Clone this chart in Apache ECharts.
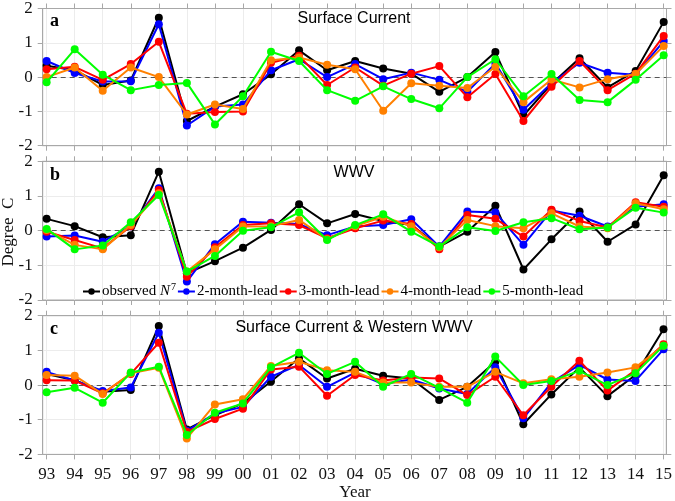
<!DOCTYPE html>
<html>
<head>
<meta charset="utf-8">
<script src="https://cdn.jsdelivr.net/npm/echarts@6/dist/echarts.min.js"></script>
<style>
html,body{margin:0;padding:0;background:#fff}
#chart{width:675px;height:501px}
</style>
</head>
<body>
<div id="chart"></div>
<script>
var years = ['93','94','95','96','97','98','99','00','01','02','03','04','05','06','07','08','09','10','11','12','13','14','15'];
var names = ['observed N7', '2-month-lead', '3-month-lead', '4-month-lead', '5-month-lead'];
var colors = ['#000000', '#0000ff', '#ff0000', '#ff8000', '#00ff00'];
var panelTitles = ['Surface Current', 'WWV', 'Surface Current & Western WWV'];
var panelLetters = ['a', 'b', 'c'];

// a: Surface Current
var aObs = [0.33, 0.2, -0.23, -0.1, 1.73, -1.28, -0.86, -0.5, 0.08, 0.78, 0.2, 0.47, 0.25, 0.1, -0.43, 0, 0.73, -1.12, -0.2, 0.55, -0.3, 0.18, 1.61];
var a2 = [0.47, 0.12, -0.13, -0.12, 1.54, -1.41, -0.86, -0.8, 0.2, 0.52, 0, 0.38, -0.06, 0.13, -0.08, -0.43, 0.4, -0.95, -0.18, 0.42, 0.13, 0.07, 1.05];
var a3 = [0.23, 0.3, -0.08, 0.38, 1.03, -1.07, -1.02, -1.0, 0.42, 0.62, -0.23, 0.28, -0.25, 0.1, 0.32, -0.59, 0.09, -1.28, -0.28, 0.47, -0.38, 0.1, 1.2];
var a4 = [0, 0.28, -0.4, 0.28, 0, -1.09, -0.8, -0.93, 0.49, 0.57, 0.36, 0.23, -0.98, -0.18, -0.25, -0.32, 0.3, -0.73, -0.07, -0.3, -0.06, 0.09, 0.91];
var a5 = [-0.15, 0.81, 0.07, -0.38, -0.23, -0.17, -1.38, -0.56, 0.74, 0.47, -0.38, -0.69, -0.27, -0.64, -0.91, 0, 0.52, -0.56, 0.09, -0.67, -0.73, -0.08, 0.64];

// b: WWV
var bObs = [0.34, 0.13, -0.19, -0.13, 1.7, -1.23, -0.88, -0.49, 0.02, 0.76, 0.21, 0.48, 0.28, 0.16, -0.46, -0.03, 0.72, -1.12, -0.25, 0.55, -0.32, 0.18, 1.6];
var b2 = [-0.17, -0.14, -0.32, 0.13, 1.22, -1.47, -0.39, 0.26, 0.23, 0.19, -0.13, 0.12, 0.16, 0.33, -0.46, 0.55, 0.52, -0.41, 0.58, 0.43, 0.12, 0.69, 0.76];
var b3 = [-0.03, -0.27, -0.51, 0.13, 1.17, -1.33, -0.48, 0.16, 0.21, 0.16, -0.22, 0.07, 0.29, 0.19, -0.54, 0.45, 0.34, -0.17, 0.6, 0.28, 0.09, 0.82, 0.69];
var b4 = [0.02, -0.41, -0.54, 0.16, 1.08, -1.18, -0.54, 0.12, 0.13, 0.31, -0.25, 0.13, 0.4, 0.13, -0.48, 0.31, 0.13, 0.07, 0.5, 0.12, 0.07, 0.79, 0.62];
var b5 = [0.05, -0.54, -0.43, 0.24, 1.03, -1.18, -0.73, 0, 0.1, 0.53, -0.27, 0.16, 0.47, -0.03, -0.46, 0.1, -0.01, 0.24, 0.36, 0.04, 0.09, 0.66, 0.52];

// c: Surface Current & Western WWV
var cObs = [0.32, 0.14, -0.19, -0.14, 1.7, -1.28, -0.87, -0.53, 0.1, 0.77, 0.19, 0.47, 0.27, 0.19, -0.43, -0.05, 0.67, -1.13, -0.27, 0.51, -0.32, 0.29, 1.61];
var c2 = [0.38, 0.13, -0.17, -0.07, 1.51, -1.32, -0.82, -0.63, 0.24, 0.58, -0.05, 0.36, 0.03, 0.16, -0.1, -0.26, 0.51, -0.96, 0.07, 0.58, 0.16, 0.12, 1.03];
var c3 = [0.14, 0.13, -0.24, 0.32, 1.22, -1.35, -0.98, -0.68, 0.45, 0.53, -0.31, 0.29, 0.13, 0.22, 0.19, -0.29, 0.24, -0.87, -0.05, 0.7, -0.16, 0.43, 1.18];
var c4 = [0.29, 0.27, -0.26, 0.34, 0.5, -1.54, -0.56, -0.41, 0.55, 0.67, 0.43, 0.38, 0.07, 0.07, -0.05, -0.05, 0.38, 0.05, 0.17, 0.24, 0.36, 0.51, 1.13];
var c5 = [-0.21, -0.08, -0.51, 0.36, 0.53, -1.44, -0.8, -0.53, 0.51, 0.93, 0.32, 0.67, -0.05, 0.32, -0.08, -0.51, 0.82, 0, 0.12, 0.41, 0, 0.34, 1.13];

var panels = [[aObs, a2, a3, a4, a5], [bObs, b2, b3, b4, b5], [cObs, c2, c3, c4, c5]];

var serif = 'Liberation Serif';
var sans = 'Liberation Sans';
var gridTops = [7, 161.3, 315.7];
var gridH = 138.7;
var tickIdx = years.map(function (y, i) { return i; });
var frameColor = '#a8a8a8';
var splitColor = '#ececec';

var myChart = echarts.init(document.getElementById('chart'));

var grids = [], xAxes = [], yAxes = [], series = [], titles = [];

panels.forEach(function (panel, p) {
  grids.push({
    left: 42.7, right: 8.5, top: gridTops[p], height: gridH,
    show: true, borderColor: frameColor, borderWidth: 1, backgroundColor: '#fff'
  });
  // bottom x axis (data)
  xAxes.push({
    type: 'value', gridIndex: p, min: -0.14, max: 22.1, position: 'bottom',
    axisLine: {show: true, onZero: false, lineStyle: {color: frameColor}},
    axisTick: {show: true, customValues: tickIdx, length: 5, lineStyle: {color: frameColor}},
    axisLabel: {
      show: p === 2, customValues: tickIdx, margin: 12,
      fontFamily: serif, fontSize: 17, color: '#111',
      formatter: function (v) { return years[Math.round(v)]; }
    },
    splitLine: {show: true, lineStyle: {color: splitColor}}
  });
  // top x axis (ticks only)
  xAxes.push({
    type: 'value', gridIndex: p, min: -0.14, max: 22.1, position: 'top',
    axisLine: {show: true, onZero: false, lineStyle: {color: frameColor}},
    axisTick: {show: true, customValues: tickIdx, length: 5, lineStyle: {color: frameColor}},
    axisLabel: {show: false},
    splitLine: {show: false}
  });
  yAxes.push({
    type: 'value', gridIndex: p, min: -2, max: 2, interval: 1, position: 'left',
    axisLine: {show: true, onZero: false, lineStyle: {color: frameColor}},
    axisTick: {show: true, length: 5, lineStyle: {color: frameColor}},
    axisLabel: {fontFamily: serif, fontSize: 17, color: '#111', margin: 10, showMinLabel: true, showMaxLabel: true},
    splitLine: {show: true, lineStyle: {color: splitColor}}
  });
  yAxes.push({
    type: 'value', gridIndex: p, min: -2, max: 2, interval: 1, position: 'right',
    axisLine: {show: true, onZero: false, lineStyle: {color: frameColor}},
    axisTick: {show: true, length: 5, lineStyle: {color: frameColor}},
    axisLabel: {show: false},
    splitLine: {show: false}
  });

  // zero reference line
  series.push({
    type: 'line', xAxisIndex: p * 2, yAxisIndex: p * 2, data: [], z: 1, silent: true,
    markLine: {
      silent: true, symbol: 'none', z: 1, animation: false,
      label: {show: false},
      lineStyle: {color: '#555', type: [5, 4], width: 1},
      data: [{yAxis: 0}]
    }
  });

  panel.forEach(function (vals, k) {
    series.push({
      name: names[k], type: 'line',
      xAxisIndex: p * 2, yAxisIndex: p * 2,
      data: vals.map(function (v, i) { return [i, v]; }),
      symbol: 'circle', symbolSize: 8,
      lineStyle: {color: colors[k], width: 2},
      itemStyle: {color: colors[k]},
      z: 3 + k
    });
  });

  titles.push({
    text: panelLetters[p], left: 50, top: gridTops[p] + 5, padding: 0,
    textStyle: {fontFamily: serif, fontWeight: 'bold', fontSize: 18, color: '#000'}
  });
  titles.push({
    text: panelTitles[p], left: 354, top: gridTops[p] + 3.5, padding: 0, textAlign: 'center',
    textStyle: {fontFamily: sans, fontWeight: 'normal', fontSize: 16, color: '#000'}
  });
});

var option = {
  animation: false,
  backgroundColor: '#fff',
  title: titles,
  legend: {
    data: names,
    left: 82, top: 282, padding: 0,
    itemWidth: 17, itemHeight: 8, itemGap: 1,
    textStyle: {
      fontFamily: serif, fontSize: 15, color: '#000', padding: [0, 0, 0, -3],
      rich: {
        n: {fontFamily: serif, fontSize: 15, fontStyle: 'italic', color: '#000'},
        s: {fontFamily: serif, fontSize: 10, color: '#000', padding: [0, 0, 9, 1]}
      }
    },
    formatter: function (name) {
      if (name === names[0]) return 'observed {n|N}{s|7}';
      return name;
    }
  },
  grid: grids,
  xAxis: xAxes,
  yAxis: yAxes,
  series: series,
  graphic: [
    {
      type: 'text', x: 8.5, y: 232, rotation: Math.PI / 2,
      style: {text: 'Degree  C', font: '17px "Liberation Serif"', fill: '#111', textAlign: 'center', textVerticalAlign: 'middle'}
    },
    {
      type: 'text', x: 355, y: 493,
      style: {text: 'Year', font: '17px "Liberation Serif"', fill: '#111', textAlign: 'center', textVerticalAlign: 'middle'}
    }
  ]
};

myChart.setOption(option);
window.addEventListener('resize', function () {
  myChart.resize();
});
</script>
</body>
</html>
